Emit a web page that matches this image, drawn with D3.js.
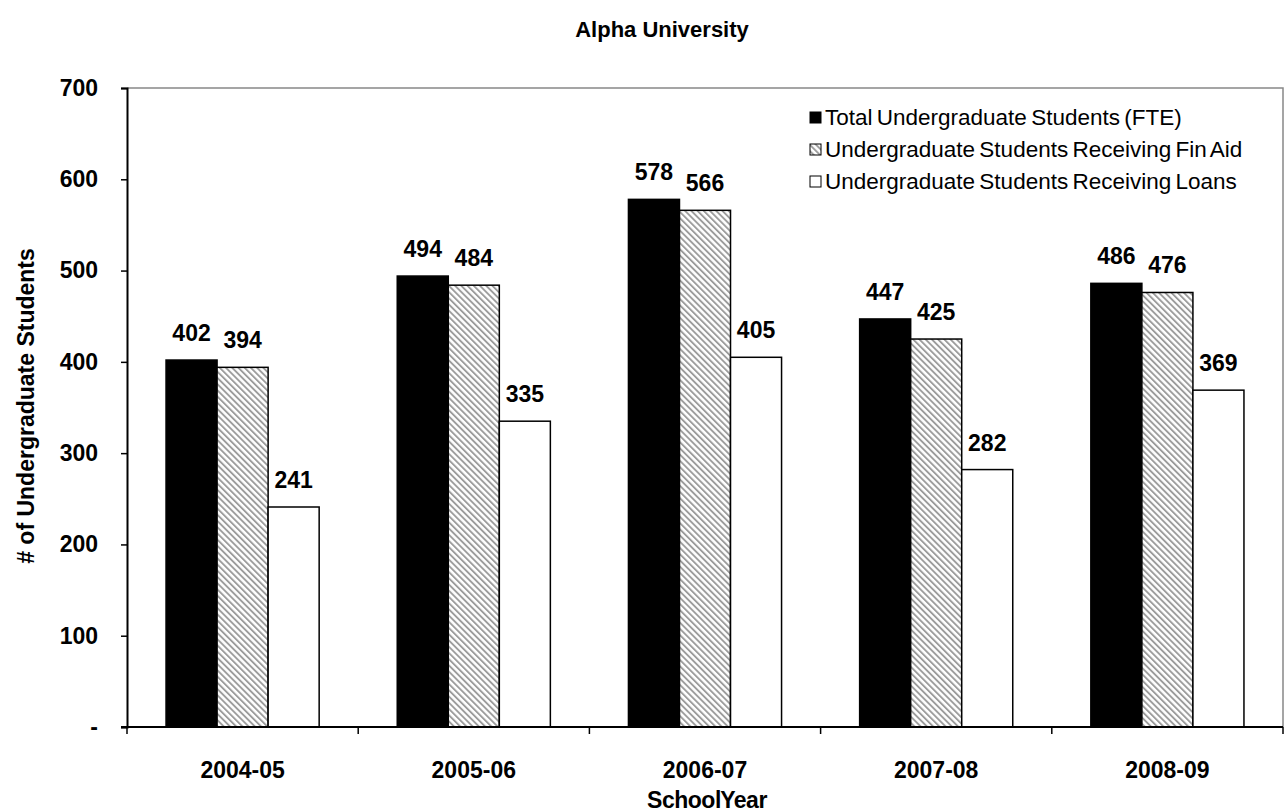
<!DOCTYPE html>
<html>
<head>
<meta charset="utf-8">
<script src="https://cdn.jsdelivr.net/npm/d3@7"></script>
<style>
  html, body { margin: 0; padding: 0; background: #fff; }
  svg { display: block; font-family: "Liberation Sans", Arial, sans-serif; }
</style>
</head>
<body>
<svg id="chart" width="1287" height="812"></svg>
<script>
// School years and enrolment counts per series
const years = ["2004-05", "2005-06", "2006-07", "2007-08", "2008-09"];
const totalFTE = [402, 494, 578, 447, 486];
const finAid = [394, 484, 566, 425, 476];
const loans = [241, 335, 405, 282, 369];
const yTicks = [0, 100, 200, 300, 400, 500, 600, 700];
const seriesNames = [
  "Total Undergraduate Students (FTE)",
  "Undergraduate Students Receiving Fin Aid",
  "Undergraduate Students Receiving Loans"
];

const svg = d3.select("#chart");
const margin = { left: 127, right: 1283, top: 88, bottom: 727 };
const FONT = "Liberation Sans, Arial, sans-serif";

// Hatch pattern for the financial-aid series
const defs = svg.append("defs");
const pat = defs.append("pattern")
  .attr("id", "hatch")
  .attr("patternUnits", "userSpaceOnUse")
  .attr("width", 4.4).attr("height", 4.4)
  .attr("patternTransform", "rotate(-45)");
pat.append("rect").attr("width", 4.4).attr("height", 4.4).attr("fill", "#fff");
pat.append("rect").attr("x", 0).attr("y", 0).attr("width", 1.9).attr("height", 4.4).attr("fill", "#9c9c9c");

const fills = ["#000", "url(#hatch)", "#fff"];
const series = [totalFTE, finAid, loans];

const x = d3.scaleBand().domain(years).range([margin.left, margin.right]).paddingInner(0).paddingOuter(0);
const x1 = d3.scaleBand().domain([0, 1, 2]).range([0, x.bandwidth()]).paddingInner(0).paddingOuter(0.765);
const y = d3.scaleLinear().domain([0, 700]).range([margin.bottom, margin.top]);

// Plot frame: top and right edges
svg.append("path")
  .attr("d", `M${margin.left},${margin.top}H${margin.right}V${margin.bottom}`)
  .attr("fill", "none").attr("stroke", "#888").attr("stroke-width", 1.5);

// Bars
years.forEach((yr, i) => {
  series.forEach((vals, s) => {
    svg.append("rect")
      .attr("x", x(yr) + x1(s))
      .attr("y", y(vals[i]))
      .attr("width", x1.bandwidth())
      .attr("height", y(0) - y(vals[i]))
      .attr("fill", fills[s])
      .attr("stroke", "#000")
      .attr("stroke-width", 1.5);
  });
});

// Value labels
years.forEach((yr, i) => {
  series.forEach((vals, s) => {
    svg.append("text")
      .attr("x", x(yr) + x1(s) + x1.bandwidth() / 2)
      .attr("y", y(vals[i]) - 19)
      .attr("text-anchor", "middle")
      .attr("font-size", 23).attr("font-weight", "bold")
      .text(vals[i]);
  });
});

// Y axis
const yAxis = d3.axisLeft(y).tickValues(yTicks).tickSize(6).tickPadding(23)
  .tickFormat(d => d === 0 ? "-" : d);
const gy = svg.append("g").attr("transform", `translate(${margin.left},0)`).call(yAxis);
gy.select(".domain").attr("stroke", "#000").attr("stroke-width", 2);
gy.selectAll(".tick line").attr("stroke", "#000").attr("stroke-width", 1.5);
gy.selectAll(".tick text").attr("font-size", 23).attr("font-weight", "bold")
  .attr("font-family", FONT).attr("fill", "#000");

// X axis with ticks at category boundaries
const gx = svg.append("g").attr("transform", `translate(0,${margin.bottom})`);
gx.append("line").attr("x1", margin.left - 6).attr("x2", margin.right)
  .attr("stroke", "#000").attr("stroke-width", 2);
const bounds = years.map(d => x(d)).concat([margin.right]);
gx.selectAll("line.tk").data(bounds).join("line").attr("class", "tk")
  .attr("x1", d => d).attr("x2", d => d).attr("y1", 0).attr("y2", 7)
  .attr("stroke", "#000").attr("stroke-width", 1.5);
gx.selectAll("text").data(years).join("text")
  .attr("x", d => x(d) + x.bandwidth() / 2)
  .attr("y", 51)
  .attr("text-anchor", "middle")
  .attr("font-size", 23).attr("font-weight", "bold")
  .text(d => d);

// Titles
svg.append("text").attr("x", 662).attr("y", 37).attr("text-anchor", "middle")
  .attr("font-size", 22).attr("font-weight", "bold").text("Alpha University");
svg.append("text").attr("x", 707).attr("y", 808).attr("text-anchor", "middle")
  .attr("font-size", 23).attr("font-weight", "bold")
  .attr("letter-spacing", -0.5).attr("word-spacing", -6).text("School Year");
svg.append("text").attr("transform", "translate(34,406) rotate(-90)")
  .attr("text-anchor", "middle")
  .attr("font-size", 23).attr("font-weight", "bold").text("# of Undergraduate Students");

// Legend
const legend = svg.append("g").attr("transform", "translate(810,108)");
seriesNames.forEach((name, i) => {
  const g = legend.append("g").attr("transform", `translate(0,${i * 32})`);
  g.append("rect").attr("x", 0).attr("y", 4).attr("width", 11).attr("height", 11)
    .attr("fill", fills[i]).attr("stroke", "#000").attr("stroke-width", 1);
  g.append("text").attr("x", 15).attr("y", 17)
    .attr("font-size", 22.5).attr("word-spacing", -2).text(name);
});
</script>
</body>
</html>
